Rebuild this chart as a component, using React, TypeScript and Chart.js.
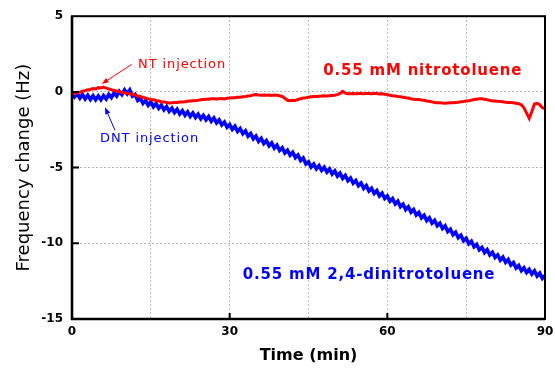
import React, { useEffect, useRef } from "react";
import { Chart, registerables } from "chart.js";

Chart.register(...registerables);

// Time step between samples (min)
const TIME_STEP = 0.5;

// 0.55 mM nitrotoluene (NT) frequency change (Hz), t = 0 ... 90 min every 0.5 min
const NT_VALUES = [
  -0.15, -0.12, -0.05, -0.02, 0.05, 0.08, 0.15, 0.16, 0.22, 0.2,
  0.28, 0.26, 0.32, 0.25, 0.2, 0.14, 0.1, 0.06, 0.02, -0.04,
  -0.05, -0.1, -0.12, -0.16, -0.2, -0.27, -0.3, -0.36, -0.4, -0.46,
  -0.5, -0.52, -0.57, -0.6, -0.65, -0.66, -0.7, -0.73, -0.72, -0.7,
  -0.7, -0.67, -0.66, -0.65, -0.62, -0.6, -0.58, -0.57, -0.55, -0.52,
  -0.5, -0.49, -0.48, -0.46, -0.45, -0.47, -0.45, -0.43, -0.46, -0.42,
  -0.4, -0.39, -0.38, -0.36, -0.35, -0.32, -0.3, -0.27, -0.25, -0.2,
  -0.17, -0.2, -0.22, -0.2, -0.22, -0.2, -0.23, -0.2, -0.22, -0.25,
  -0.3, -0.42, -0.55, -0.58, -0.55, -0.57, -0.5, -0.45, -0.4, -0.38,
  -0.35, -0.32, -0.3, -0.3, -0.28, -0.27, -0.25, -0.27, -0.25, -0.23,
  -0.22, -0.18, -0.1, 0.03, -0.08, -0.12, -0.12, -0.1, -0.12, -0.1,
  -0.1, -0.12, -0.1, -0.11, -0.12, -0.1, -0.1, -0.13, -0.12, -0.16,
  -0.18, -0.22, -0.25, -0.27, -0.3, -0.32, -0.35, -0.38, -0.4, -0.45,
  -0.48, -0.5, -0.5, -0.53, -0.55, -0.6, -0.62, -0.66, -0.7, -0.71,
  -0.72, -0.74, -0.75, -0.73, -0.72, -0.72, -0.7, -0.68, -0.65, -0.63,
  -0.6, -0.58, -0.55, -0.5, -0.48, -0.46, -0.45, -0.48, -0.52, -0.56,
  -0.6, -0.6, -0.62, -0.63, -0.65, -0.68, -0.7, -0.7, -0.72, -0.75,
  -0.78, -0.85, -1.05, -1.4, -1.75, -1.3, -0.8, -0.75, -0.85, -1.05,
  -1.1,
];

// 0.55 mM 2,4-dinitrotoluene (DNT) frequency change (Hz), t = 0 ... 90 min every 0.5 min
const DNT_VALUES = [
  -0.02, -0.33, -0.12, -0.41, -0.17, -0.46, -0.22, -0.5, -0.25, -0.52,
  -0.27, -0.52, -0.25, -0.47, -0.17, -0.38, -0.07, -0.28, 0.03, -0.18,
  0.13, -0.13, 0.13, -0.28, -0.17, -0.56, -0.42, -0.76, -0.57, -0.88,
  -0.67, -0.98, -0.77, -1.08, -0.87, -1.18, -0.97, -1.28, -1.07, -1.37,
  -1.15, -1.46, -1.24, -1.54, -1.32, -1.62, -1.39, -1.69, -1.47, -1.77,
  -1.55, -1.85, -1.63, -1.94, -1.72, -2.05, -1.85, -2.18, -1.99, -2.33,
  -2.15, -2.47, -2.27, -2.61, -2.42, -2.76, -2.57, -2.92, -2.75, -3.1,
  -2.92, -3.26, -3.07, -3.41, -3.22, -3.56, -3.37, -3.71, -3.52, -3.87,
  -3.69, -4.03, -3.85, -4.18, -3.99, -4.34, -4.17, -4.53, -4.37, -4.76,
  -4.62, -4.96, -4.77, -5.08, -4.87, -5.18, -4.97, -5.29, -5.09, -5.42,
  -5.22, -5.56, -5.37, -5.71, -5.52, -5.87, -5.69, -6.03, -5.85, -6.2,
  -6.02, -6.37, -6.19, -6.54, -6.37, -6.71, -6.52, -6.87, -6.69, -7.04,
  -6.87, -7.22, -7.05, -7.4, -7.22, -7.58, -7.42, -7.77, -7.59, -7.94,
  -7.77, -8.13, -7.97, -8.32, -8.15, -8.5, -8.32, -8.67, -8.49, -8.84,
  -8.67, -9.02, -8.85, -9.22, -9.07, -9.43, -9.27, -9.63, -9.47, -9.83,
  -9.67, -10.03, -9.87, -10.23, -10.07, -10.43, -10.27, -10.61, -10.42, -10.77,
  -10.59, -10.94, -10.77, -11.11, -10.92, -11.26, -11.07, -11.43, -11.27, -11.63,
  -11.47, -11.81, -11.62, -11.93, -11.72, -12.03, -11.82, -12.16, -11.97, -12.31,
  -12.12,
];

// Axis ticks
const X_LABEL_TICKS = [0, 30, 60, 90];
const X_GRID_STEP = 15;
const Y_TICKS = [5, 0, -5, -10, -15];
const X_INNER_TICKS = [30, 60];
const Y_INNER_TICKS = [0, -5, -10];

// Texts
const X_TITLE = "Time (min)";
const Y_TITLE = "Frequency change (Hz)";
const NT_LABEL = "0.55 mM nitrotoluene";
const DNT_LABEL = "0.55 mM 2,4-dinitrotoluene";
const NT_INJ = "NT injection";
const DNT_INJ = "DNT injection";

const RED = "#ff0000";
const BLUE = "#0000ff";
const FONT = "'DejaVu Sans', Verdana, sans-serif";

const toPoints = (vals: number[]) => vals.map((v, i) => ({ x: i * TIME_STEP, y: v }));

export default function App() {
  const ref = useRef<HTMLCanvasElement | null>(null);

  useEffect(() => {
    if (!ref.current) return;

    const overlay = {
      id: "overlay",
      afterDraw(chart: any) {
        const { ctx, chartArea: a, scales } = chart;
        const xs = scales.x;
        const ys = scales.y;
        const X = (v: number) => xs.getPixelForValue(v);
        const Y = (v: number) => ys.getPixelForValue(v);
        ctx.save();
        ctx.strokeStyle = "#000";
        ctx.lineWidth = 2;
        // inward ticks
        ctx.beginPath();
        for (const v of X_INNER_TICKS) {
          ctx.moveTo(X(v), a.bottom);
          ctx.lineTo(X(v), a.bottom - 6);
        }
        for (const v of Y_INNER_TICKS) {
          ctx.moveTo(a.left, Y(v));
          ctx.lineTo(a.left + 7, Y(v));
        }
        ctx.stroke();
        // frame
        ctx.lineWidth = 2;
        ctx.strokeRect(a.left, a.top, a.right - a.left, a.bottom - a.top);
        ctx.lineWidth = 2.6;
        ctx.beginPath();
        ctx.moveTo(a.left, a.top);
        ctx.lineTo(a.left, a.bottom);
        ctx.lineTo(a.right, a.bottom);
        ctx.stroke();

        // labels
        const text = (s: string, x: number, y: number, color: string, font: string, spacing: number) => {
          ctx.font = font;
          (ctx as any).letterSpacing = spacing + "px";
          ctx.fillStyle = color;
          ctx.textAlign = "left";
          ctx.textBaseline = "middle";
          ctx.fillText(s, X(x), Y(y));
        };
        text(NT_LABEL, 47.8, 1.37, RED, `bold 15px ${FONT}`, 0.8);
        text(DNT_LABEL, 32.5, -12.09, BLUE, `bold 15px ${FONT}`, 0.8);
        text(NT_INJ, 12.56, 1.8, RED, `13px ${FONT}`, 0.9);
        text(DNT_INJ, 5.33, -3.1, BLUE, `13px ${FONT}`, 0.9);
        (ctx as any).letterSpacing = "0px";

        // arrows
        const arrow = (x1: number, y1: number, x2: number, y2: number, color: string) => {
          const p1x = X(x1), p1y = Y(y1), p2x = X(x2), p2y = Y(y2);
          const ang = Math.atan2(p2y - p1y, p2x - p1x);
          ctx.strokeStyle = color;
          ctx.fillStyle = color;
          ctx.lineWidth = 1;
          ctx.beginPath();
          ctx.moveTo(p1x, p1y);
          ctx.lineTo(p2x - 4 * Math.cos(ang), p2y - 4 * Math.sin(ang));
          ctx.stroke();
          const hl = 7, hw = 2.6;
          ctx.beginPath();
          ctx.moveTo(p2x, p2y);
          ctx.lineTo(p2x - hl * Math.cos(ang) + hw * Math.sin(ang), p2y - hl * Math.sin(ang) - hw * Math.cos(ang));
          ctx.lineTo(p2x - hl * Math.cos(ang) - hw * Math.sin(ang), p2y - hl * Math.sin(ang) + hw * Math.cos(ang));
          ctx.closePath();
          ctx.fill();
        };
        arrow(11.36, 1.82, 5.65, 0.52, RED);
        arrow(8.18, -2.54, 6.28, -1.01, BLUE);
        ctx.restore();
      },
    };

    const chart = new Chart(ref.current, {
      type: "line",
      data: {
        datasets: [
          {
            label: "0.55 mM nitrotoluene",
            data: toPoints(NT_VALUES),
            borderColor: RED,
            borderWidth: 3,
            pointRadius: 0,
            tension: 0,
            fill: false,
          },
          {
            label: "0.55 mM 2,4-dinitrotoluene",
            data: toPoints(DNT_VALUES),
            borderColor: BLUE,
            borderWidth: 3.6,
            pointRadius: 0,
            tension: 0,
            fill: false,
          },
        ],
      },
      options: {
        animation: false,
        responsive: false,
        maintainAspectRatio: false,
        layout: { padding: { left: 0, right: 10, top: 13, bottom: 0 } },
        plugins: {
          legend: { display: false },
          tooltip: { enabled: false },
        },
        scales: {
          x: {
            type: "linear",
            min: 0,
            max: 90,
            afterFit: (s: any) => {
              s.height = 50;
              s.paddingRight = 0;
              s.paddingLeft = 0;
            },
            ticks: {
              stepSize: X_GRID_STEP,
              autoSkip: false,
              maxRotation: 0,
              padding: 6,
              color: "#000",
              font: { family: FONT, size: 12, weight: "bold" },
              callback: (v: any) => (X_LABEL_TICKS.includes(Number(v)) ? String(v) : ""),
            },
            grid: { color: "#b4b4b4", lineWidth: 1, drawTicks: false },
            border: { display: false, dash: [2, 2] },
            title: {
              display: true,
              text: X_TITLE,
              color: "#000",
              font: { family: FONT, size: 16, weight: "bold" },
              padding: { top: 0, bottom: 4 },
            },
          },
          y: {
            min: -15,
            max: 5,
            afterFit: (s: any) => {
              s.width = 72;
            },
            afterBuildTicks: (s: any) => {
              s.ticks = Y_TICKS.map((v) => ({ value: v }));
            },
            ticks: {
              padding: 9,
              color: "#000",
              font: { family: FONT, size: 12, weight: "bold" },
            },
            grid: { color: "#b4b4b4", lineWidth: 1, drawTicks: false },
            border: { display: false, dash: [2, 2] },
            title: {
              display: true,
              text: Y_TITLE,
              color: "#000",
              font: { family: FONT, size: 18, weight: "normal" },
              padding: { top: 14, bottom: 0 },
            },
          },
        },
      },
      plugins: [overlay],
    } as any);

    return () => chart.destroy();
  }, []);

  return (
    <div style={{ position: "absolute", left: 0, top: 0, width: 555, height: 369, background: "#fff" }}>
      <canvas ref={ref} width={555} height={369} style={{ width: 555, height: 369 }} />
    </div>
  );
}
